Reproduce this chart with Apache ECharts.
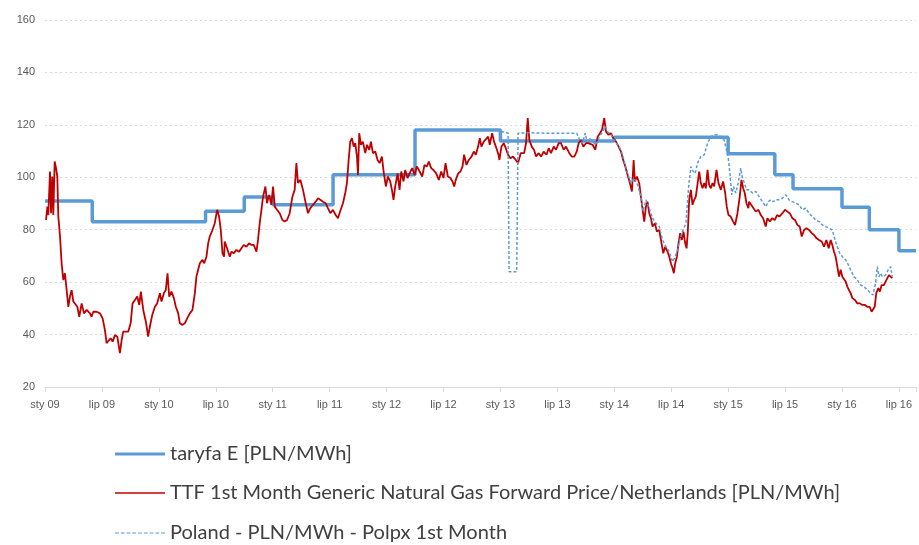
<!DOCTYPE html>
<html>
<head>
<meta charset="utf-8">
<script src="https://cdn.jsdelivr.net/npm/echarts@6/dist/echarts.min.js"></script>
<style>html,body{margin:0;padding:0;background:#fff}#c{width:919px;height:545px}</style>
</head>
<body>
<div id="c"></div>
<script>
// Time is expressed as fractional year (2009.0 = sty 09, 2009.5 = lip 09)
const seriesNames = ['taryfa E [PLN/MWh]', 'TTF 1st Month Generic Natural Gas Forward Price/Netherlands [PLN/MWh]', 'Poland - PLN/MWh - Polpx 1st Month'];
const yTicks = [20, 40, 60, 80, 100, 120, 140, 160];

const taryfaDates = [2009.0, 2009.415, 2010.41, 2010.75, 2011.0, 2011.53, 2012.25, 2013.0, 2014.0, 2015.0, 2015.41, 2015.57, 2016.0, 2016.24, 2016.5, 2016.65];
const taryfaValues = [91, 83, 87, 92.5, 89.5, 101, 118, 113.8, 115.3, 109, 101, 95.6, 88.6, 80, 72, 72];

const ttfDates = [
2009.009,2009.021,2009.029,2009.044,2009.053,2009.064,2009.073,2009.085,2009.097,2009.108,2009.117,2009.132,2009.146,2009.161,2009.175,2009.190,2009.205,2009.219,2009.234,2009.249,2009.263,2009.284,2009.301,2009.322,2009.342,2009.366,2009.395,2009.409,2009.424,2009.453,2009.483,2009.506,2009.526,2009.541,2009.556,2009.576,2009.594,2009.614,2009.635,2009.658,2009.673,2009.687,2009.711,2009.731,2009.752,2009.769,2009.790,2009.810,2009.828,2009.842,2009.863,2009.886,2009.906,2009.921,2009.942,2009.965,2009.985,
2010.009,2010.023,2010.044,2010.061,2010.076,2010.091,2010.111,2010.132,2010.149,2010.170,2010.184,2010.208,2010.228,2010.249,2010.272,2010.295,2010.316,2010.330,2010.345,2010.360,2010.383,2010.398,2010.418,2010.433,2010.447,2010.471,2010.491,2010.512,2010.529,2010.544,2010.559,2010.573,
2010.579,2010.599,2010.623,2010.637,2010.658,2010.681,2010.705,2010.725,2010.746,2010.769,2010.792,2010.813,2010.833,2010.857,2010.871,2010.886,2010.901,2010.915,2010.936,2010.950,2010.968,2010.988,
2011.003,2011.018,2011.038,2011.061,2011.085,2011.105,2011.126,2011.149,2011.173,2011.193,2011.208,2011.222,2011.243,2011.266,2011.290,2011.310,2011.330,2011.354,2011.377,2011.398,2011.418,2011.442,2011.465,2011.485,2011.506,2011.529,2011.553,2011.573,2011.597,2011.617,2011.637,2011.652,2011.667,2011.681,2011.696,2011.711,2011.725,2011.740,2011.749,2011.760,2011.775,2011.792,2011.813,2011.828,2011.848,2011.863,2011.880,2011.901,2011.921,2011.939,2011.959,2011.974,2011.994,
2012.012,2012.032,2012.047,2012.061,2012.076,2012.097,2012.114,2012.129,2012.149,2012.164,2012.184,2012.202,2012.225,2012.246,2012.266,2012.290,2012.313,2012.333,2012.354,2012.371,2012.392,2012.412,2012.436,2012.459,2012.480,2012.500,2012.518,2012.538,2012.561,2012.579,2012.594,2012.608,2012.629,2012.649,2012.667,2012.681,2012.702,2012.722,2012.746,2012.766,2012.784,2012.804,2012.819,2012.833,2012.854,2012.871,2012.892,2012.906,2012.927,2012.944,2012.965,2012.983,2012.991,
2013.009,2013.029,2013.047,2013.067,2013.088,2013.111,2013.135,2013.155,2013.178,2013.208,2013.225,2013.240,2013.254,2013.275,2013.295,2013.313,2013.336,2013.357,2013.380,2013.404,2013.424,2013.444,2013.468,2013.488,2013.512,2013.532,2013.556,2013.576,2013.605,2013.626,2013.649,2013.670,2013.687,2013.708,2013.728,2013.752,2013.772,
2013.781,2013.810,2013.833,2013.854,2013.874,2013.892,2013.912,2013.927,2013.950,2013.971,2013.991,
2014.015,2014.038,2014.059,2014.073,2014.097,2014.117,2014.137,2014.155,2014.170,2014.181,2014.199,2014.219,2014.234,2014.249,2014.263,2014.278,2014.292,2014.307,2014.322,2014.336,2014.357,2014.374,2014.395,2014.415,2014.430,2014.447,2014.468,2014.483,2014.497,2014.512,2014.523,2014.535,2014.550,2014.564,2014.579,2014.594,2014.608,2014.623,2014.635,2014.646,2014.658,2014.673,2014.687,2014.702,2014.716,2014.731,2014.746,2014.760,2014.775,2014.790,2014.804,2014.819,2014.833,2014.848,2014.863,2014.877,2014.898,2014.915,2014.936,2014.956,2014.974,2014.988,
2015.003,2015.023,2015.044,2015.061,2015.082,2015.102,2015.117,2015.132,2015.146,2015.161,2015.178,
2015.184,2015.214,2015.243,2015.266,2015.287,2015.307,2015.330,2015.345,2015.366,2015.386,2015.409,2015.430,2015.450,2015.477,2015.500,2015.521,2015.541,2015.564,2015.588,2015.608,2015.629,2015.646,2015.667,2015.687,2015.711,2015.734,2015.754,2015.775,2015.798,2015.822,2015.842,2015.863,2015.883,2015.901,2015.915,2015.930,2015.944,2015.959,2015.974,2015.988,
2016.003,2016.018,2016.032,2016.047,2016.061,2016.076,2016.091,2016.114,2016.135,2016.158,2016.178,2016.202,2016.222,2016.243,2016.260,2016.272,2016.287,2016.301,2016.319,2016.333,2016.348,2016.368,2016.383,2016.398,2016.412,2016.427,2016.442
];
const ttfValues = [
83.7,88.8,85.6,102.2,86.3,100.3,85.6,106.0,103.5,100.3,85.0,77.4,67.2,60.8,63.4,57.0,50.6,54.5,57.0,52.6,51.9,50.6,46.8,51.9,48.1,49.4,48.1,46.8,48.7,48.7,48.1,46.2,41.8,36.7,37.3,38.6,37.3,39.8,39.2,32.9,37.9,41.1,41.1,41.1,44.3,51.9,53.2,54.5,51.3,56.4,49.4,44.9,39.2,43.0,47.5,50.6,51.9,
55.8,52.6,55.8,57.0,63.4,54.5,56.4,53.9,50.6,48.1,44.3,43.7,44.3,46.2,48.1,49.4,55.8,62.1,64.7,67.2,68.5,67.2,69.7,74.8,77.4,79.9,82.5,87.6,85.0,79.9,71.0,69.7,
75.5,72.9,69.7,71.6,71.0,72.3,71.6,72.9,74.2,73.5,74.8,74.2,74.2,71.6,76.1,82.5,87.6,92.6,96.5,90.1,93.3,89.5,
96.5,88.8,87.6,86.3,83.7,83.1,83.7,86.3,92.6,95.2,105.4,97.8,99.0,95.2,90.1,86.3,88.2,89.5,90.7,92.0,91.4,90.7,90.1,88.2,86.3,87.6,85.6,84.4,87.6,90.1,94.0,97.8,106.6,113.6,114.9,111.7,113.0,107.9,100.9,116.8,112.4,113.6,109.2,112.4,110.5,113.6,109.2,109.8,106.6,105.4,107.9,102.2,96.5,
100.3,98.4,95.2,91.4,96.5,101.5,95.2,102.2,98.4,102.8,99.7,101.5,103.5,100.9,104.1,102.2,100.3,104.7,104.1,106.0,103.5,102.8,101.5,99.0,102.2,99.7,105.4,100.3,99.7,98.4,96.5,99.0,101.5,102.2,104.1,108.6,104.7,106.6,107.9,109.8,108.6,111.7,114.9,111.7,113.6,113.0,115.5,112.4,116.8,113.6,111.1,108.6,106.6,
111.7,113.0,111.1,108.6,107.3,107.9,106.6,105.4,109.2,109.2,113.0,122.6,114.2,111.7,110.5,107.9,109.2,107.9,109.8,108.6,111.1,109.2,111.7,110.5,113.0,113.0,110.5,111.7,109.2,107.9,107.9,109.8,113.0,114.2,111.7,113.0,113.0,
113.6,112.4,110.5,115.5,116.8,118.1,122.6,117.4,116.2,116.8,114.9,
113.6,111.7,109.8,107.3,104.1,100.9,97.8,94.6,106.6,98.4,100.3,97.8,92.6,87.6,83.1,88.8,90.7,86.3,84.4,81.2,82.5,79.3,79.9,74.8,71.0,73.5,71.6,69.7,67.2,65.3,63.4,67.2,69.7,74.8,78.7,76.1,79.3,74.8,72.9,79.3,91.4,95.2,89.5,91.4,92.6,92.0,102.2,97.8,95.8,97.8,95.8,102.8,97.1,95.8,97.8,96.5,102.8,97.8,95.2,98.4,94.0,88.8,
85.6,85.0,83.1,81.8,86.3,92.6,99.0,95.8,94.0,90.1,88.2,
90.7,88.8,86.9,87.6,85.6,84.4,81.2,84.4,83.1,84.4,83.7,85.6,85.0,86.3,87.6,86.9,86.3,84.4,83.7,81.8,81.2,77.4,79.9,80.6,79.9,78.7,78.0,76.8,76.1,75.5,73.5,76.1,72.9,76.1,74.2,71.6,69.7,65.9,62.1,64.7,
62.1,61.5,60.2,58.3,57.0,55.8,53.9,53.2,51.9,51.9,51.3,51.3,50.6,50.6,48.7,48.1,50.6,55.8,57.7,56.4,58.9,58.9,60.2,59.6,62.7,62.1,61.5
];

const polpxDates = [
2013.006,2013.044,2013.067,2013.076,2013.143,2013.155,2013.25,2013.40,2013.55,2013.67,2013.70,2013.72,2013.745,2013.76,
2013.781,2013.810,2013.839,2013.868,2013.898,2013.921,2013.942,2013.971,
2014.000,2014.029,2014.059,2014.088,2014.117,2014.146,2014.175,2014.205,2014.234,2014.254,2014.278,2014.307,2014.336,2014.366,2014.395,2014.424,2014.453,2014.483,2014.512,2014.535,2014.556,2014.576,2014.599,2014.629,2014.652,2014.673,2014.693,2014.711,2014.731,2014.760,2014.790,2014.819,2014.848,2014.877,2014.906,2014.936,2014.965,2014.985,
2015.003,2015.018,2015.032,2015.047,2015.067,2015.088,2015.111,2015.126,2015.143,2015.161,2015.184,2015.214,2015.243,2015.272,2015.301,2015.330,2015.354,2015.374,2015.395,2015.418,2015.447,2015.477,2015.506,2015.535,2015.564,2015.594,2015.623,2015.652,2015.681,2015.711,2015.740,2015.769,2015.798,2015.828,2015.857,2015.886,2015.915,2015.939,2015.959,2015.980,
2016.003,2016.032,2016.056,2016.076,2016.105,2016.135,2016.164,2016.193,2016.222,2016.252,2016.272,2016.295,2016.310,2016.325,2016.339,2016.354,2016.383,2016.406,2016.427,2016.442
];
const polpxValues = [
117.4,117.2,116.8,64,64,116.8,117.0,116.8,116.8,116.8,114.0,113.0,116.8,113.6,
114.9,113.6,112.4,115.5,117.4,119.4,117.4,116.2,
114.2,112.4,110.5,106.0,101.5,97.8,99.7,97.1,92.6,87.0,91.4,88.2,84.4,82.5,81.2,76.1,73.5,71.6,67.8,69.7,72.3,76.1,79.3,82.5,96.0,104.1,102.2,101.5,105.4,107.9,108.6,113.0,115.5,116.2,116.2,115.5,114.2,110.5,
106.6,100.3,93.3,96.5,94.0,97.8,103.5,99.7,97.8,95.2,95.2,94.0,94.6,92.6,90.7,88.8,90.7,91.4,90.7,91.4,91.4,92.0,93.3,91.4,90.7,90.1,89.5,87.6,88.2,86.3,85.0,83.7,83.1,81.8,81.2,80.6,79.9,76.1,73.5,71.0,
69.7,68.5,66.6,64.7,62.1,60.8,58.9,58.3,57.0,55.8,55.1,59.6,65.9,62.1,63.4,62.1,62.7,64.7,65.9,62.1
];

const pair = (xs, ys) => xs.map((x, i) => [x, ys[i]]);

const legendText = {fontFamily: 'Lato', fontSize: 20, color: '#404040'};
const dashIcon = 'path://M0,0h4v1h-4z M6,0h4v1h-4z M12,0h4v1h-4z M18,0h4v1h-4z M24,0h4v1h-4z M30,0h4v1h-4z M36,0h4v1h-4z M42,0h4v1h-4z M48,0h4v1h-4z';

const chart = echarts.init(document.getElementById('c'), null, {renderer: 'canvas'});
chart.setOption({
  animation: false,
  backgroundColor: '#ffffff',
  grid: {left: 45, right: 2, top: 20, bottom: 158, containLabel: false},
  legend: [
    {data: [seriesNames[0]], left: 110, top: 439, icon: 'rect', itemWidth: 50, itemHeight: 3.2, textStyle: legendText, selectedMode: false},
    {data: [seriesNames[1]], left: 110, top: 478, icon: 'rect', itemWidth: 50, itemHeight: 1.6, textStyle: legendText, selectedMode: false},
    {data: [seriesNames[2]], left: 110, top: 518, icon: dashIcon, itemWidth: 50, itemHeight: 1.4, textStyle: legendText, selectedMode: false}
  ],
  xAxis: {
    type: 'value', min: 2009, max: 2016.65, interval: 0.5,
    axisLine: {show: true, lineStyle: {color: '#D9D9D9', width: 1}},
    axisTick: {show: true, length: 5, lineStyle: {color: '#D9D9D9'}},
    splitLine: {show: false},
    axisLabel: {
      margin: 12, fontSize: 11, color: '#595959', fontFamily: 'Liberation Sans',
      formatter: function (v) {
        const h = Math.round(v * 2);
        if (Math.abs(v * 2 - h) > 1e-6) return '';
        const y = Math.floor(h / 2);
        return (h % 2 === 0 ? 'sty ' : 'lip ') + String(y).slice(2);
      }
    }
  },
  yAxis: {
    type: 'value', min: yTicks[0], max: yTicks[yTicks.length - 1], interval: 20,
    axisLine: {show: false}, axisTick: {show: false},
    splitLine: {show: true, lineStyle: {color: '#D9D9D9', type: [2, 3], width: 1}},
    axisLabel: {margin: 10, fontSize: 11, color: '#595959', fontFamily: 'Liberation Sans'}
  },
  series: [
    {name: seriesNames[0], type: 'line', step: 'end', symbol: 'none', data: pair(taryfaDates, taryfaValues),
     lineStyle: {color: '#5B9BD5', width: 3.5}, itemStyle: {color: '#5B9BD5'}, z: 2},
    {name: seriesNames[1], type: 'line', symbol: 'none', data: pair(ttfDates, ttfValues),
     lineStyle: {color: '#C00000', width: 1.8}, itemStyle: {color: '#C00000'}, z: 3},
    {name: seriesNames[2], type: 'line', symbol: 'none', data: pair(polpxDates, polpxValues),
     lineStyle: {color: '#5B9BD5', width: 1.5, type: [3, 2]}, itemStyle: {color: '#5B9BD5'}, z: 4}
  ]
});
</script>
</body>
</html>
